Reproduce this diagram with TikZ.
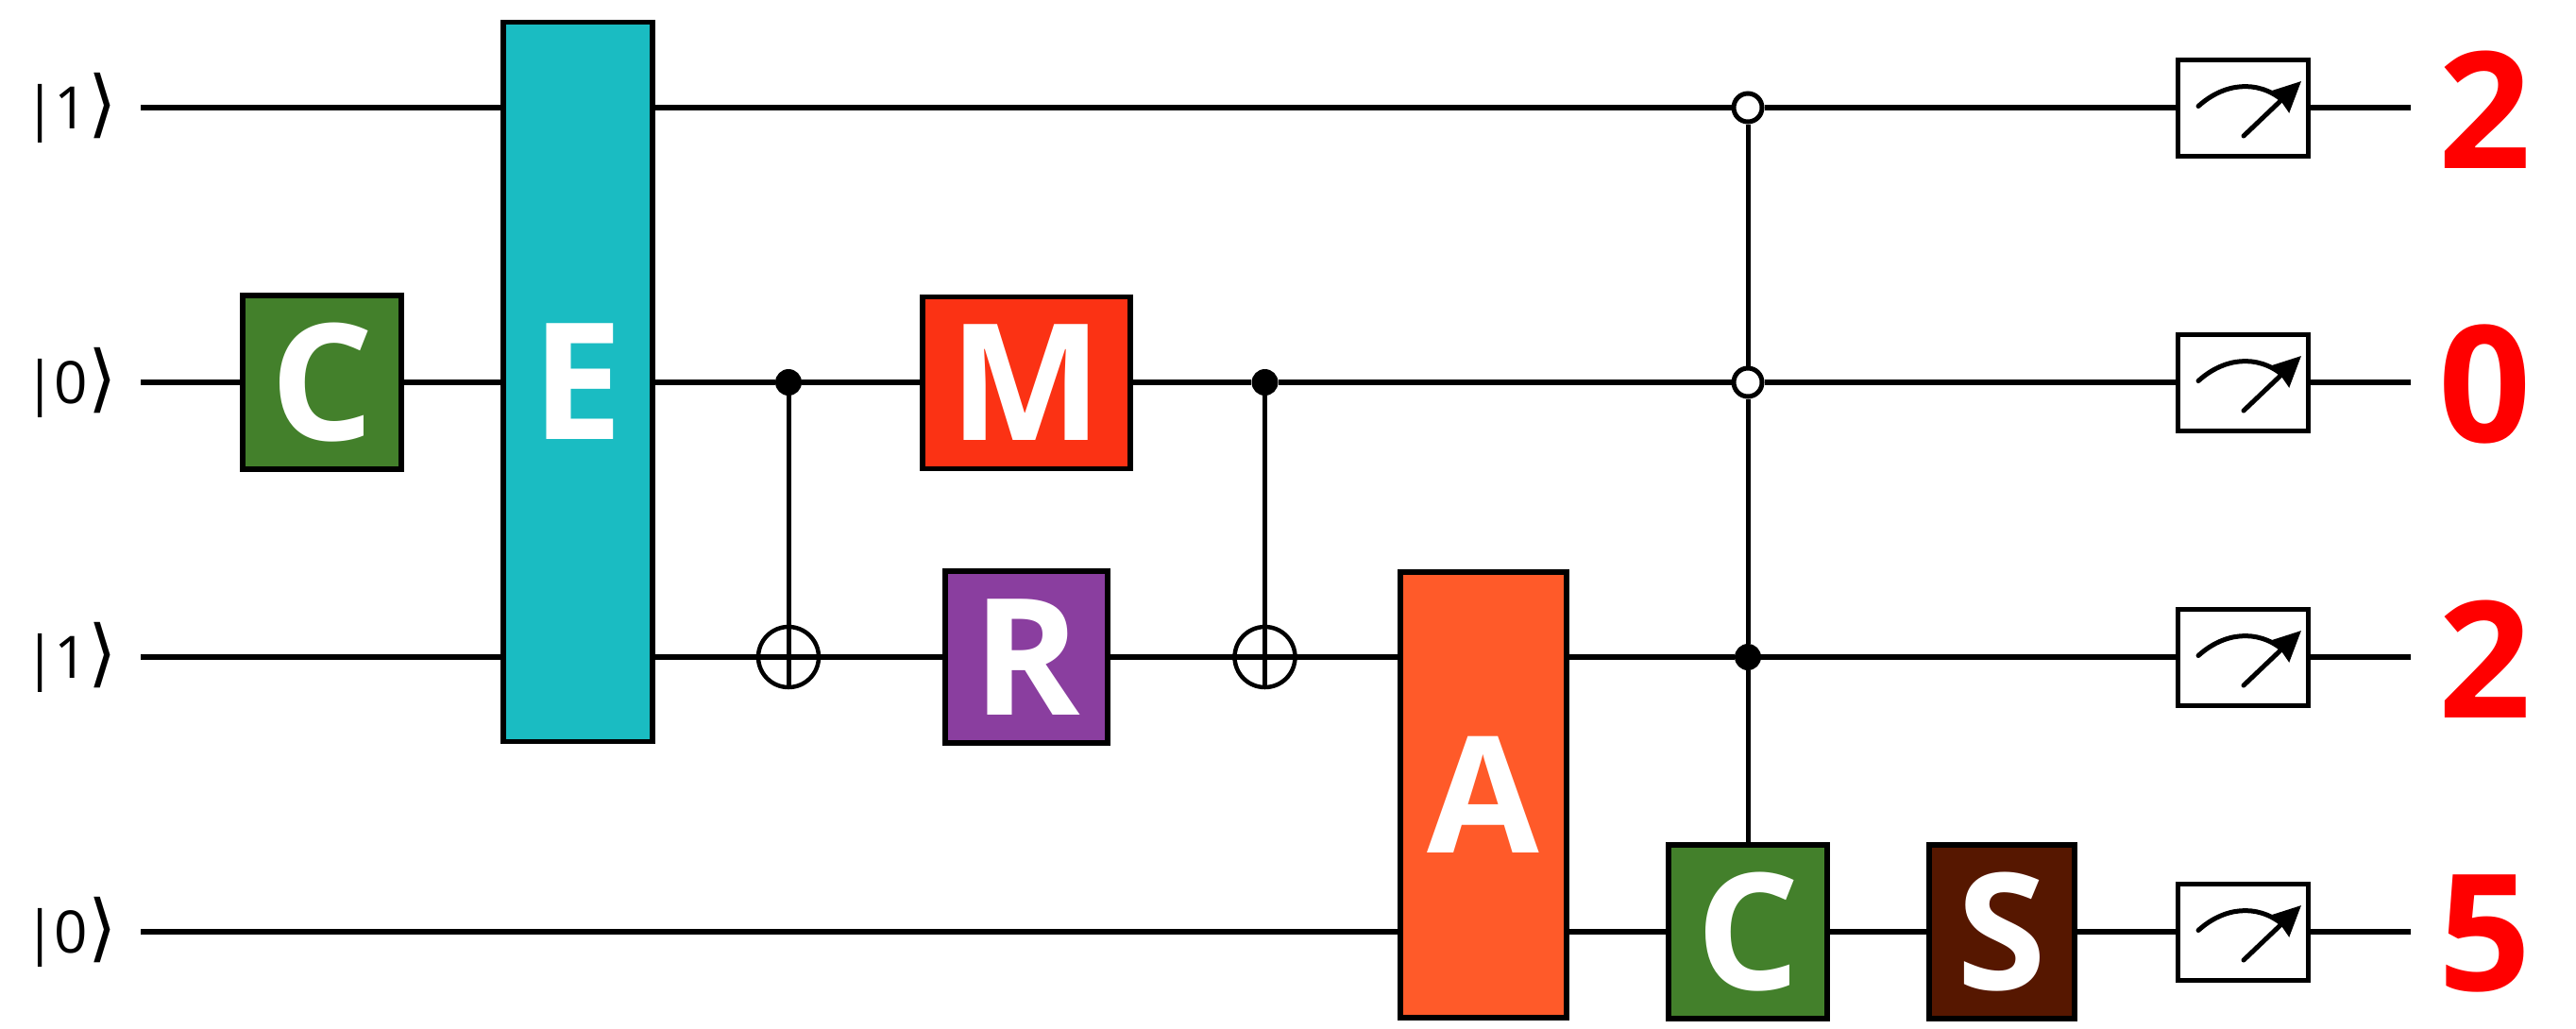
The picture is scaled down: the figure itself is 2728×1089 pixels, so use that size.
\documentclass[tikz,border=0pt]{standalone}
\usepackage{fontspec}
\setmainfont{Open Sans}
\newfontfamily\ketfont{DejaVu Sans}
\usetikzlibrary{arrows.meta,calc}
\definecolor{cgreen}{HTML}{43802B}
\definecolor{cteal}{HTML}{1ABCC2}
\definecolor{cred}{HTML}{FB3214}
\definecolor{cpurple}{HTML}{8A3E9F}
\definecolor{corange}{HTML}{FF5A29}
\definecolor{cbrown}{HTML}{561700}
\newcommand{\ketlab}[1]{|\kern-1.5pt#1\kern0.5pt{\ketfont\fontsize{39}{39}\selectfont ⟩}}
\tikzset{
  wire/.style={line width=2.75pt,black},
  gatebox/.style={draw=black,line width=2.75pt,inner sep=0pt,text=white,font=\fontsize{86}{86}\selectfont\bfseries},
  ctrl/.style={circle,fill=black,draw=none,minimum size=14pt,inner sep=0pt},
  openctrl/.style={circle,fill=white,draw=black,line width=2.5pt,minimum size=15pt,inner sep=0pt},
  xorcirc/.style={circle,draw=black,line width=2.25pt,minimum size=32pt,inner sep=0pt},
  meterbox/.style={draw=black,fill=white,line width=2.5pt,minimum width=69pt,minimum height=51pt,inner sep=0pt},
  ketlabel/.style={font=\fontsize{31}{34}\selectfont,inner sep=0pt},
  result/.style={font=\fontsize{86}{86}\selectfont\bfseries,text=red,inner sep=0pt},
}
\begin{document}
\begin{tikzpicture}[x=0.5pt,y=-0.5pt]
\useasboundingbox (0,0) rectangle (2728,1089);
% wire ends
\coordinate (s1) at (149,114);
\coordinate (s2) at (149,405);
\coordinate (s3) at (149,696);
\coordinate (s4) at (149,987);
\coordinate (e1) at (2553,114);
\coordinate (e2) at (2553,405);
\coordinate (e3) at (2553,696);
\coordinate (e4) at (2553,987);
% labels
\node[ketlabel] (k1) at (75,114) {\ketlab{1}};
\node[ketlabel] (k2) at (75,405) {\ketlab{0}};
\node[ketlabel] (k3) at (75,696) {\ketlab{1}};
\node[ketlabel] (k4) at (75,987) {\ketlab{0}};
% gates
\node[gatebox,fill=cgreen,minimum width=84pt,minimum height=92pt] (C1) at (341,405) {C};
\node[gatebox,fill=cteal,minimum width=79pt,minimum height=381pt] (E) at (612,404.5) {E};
\node[gatebox,fill=cred,minimum width=110pt,minimum height=91pt] (M) at (1087,405.5) {M};
\node[gatebox,fill=cpurple,minimum width=86pt,minimum height=91pt] (R) at (1087,696) {R};
\node[gatebox,fill=corange,minimum width=88pt,minimum height=236pt] (A) at (1571,842) {A};
\node[gatebox,fill=cgreen,minimum width=84pt,minimum height=92pt] (C2) at (1851,987) {C};
\node[gatebox,fill=cbrown,minimum width=77pt,minimum height=92pt] (S) at (2120,987) {S};
% controls
\node[ctrl] (d1) at (835,405) {};
\node[xorcirc] (x1) at (835,696) {};
\node[ctrl] (d2) at (1339.5,405) {};
\node[xorcirc] (x2) at (1339.5,696) {};
\node[openctrl] (o1) at (1851,114) {};
\node[openctrl] (o2) at (1851,405) {};
\node[ctrl] (d3) at (1851,696) {};
% meters
\foreach \i/\y in {1/114,2/405,3/696,4/987}{
  \node[meterbox] (m\i) at (2375,\y) {};
  \begin{scope}[shift={(m\i.center)}]
    \draw[line width=2.5pt,line cap=round] (-47,-1.5) .. controls (-20,-26) and (15,-30) .. (42,-8);
    \draw[line width=2.5pt,line cap=round,-{Stealth[length=16pt,width=15pt,inset=1pt]}] (1,30) -- (62,-28);
  \end{scope}
}
% results
\node[result] (r1) at (2632,116) {2};
\node[result] (r2) at (2632,407) {0};
\node[result] (r3) at (2632,698) {2};
\node[result] (r4) at (2632,989) {5};
% wire 1
\draw[wire] (s1) -- (s1 -| E.west);
\draw[wire] (s1 -| E.east) -- (o1);
\draw[wire] (o1) -- (m1);
\draw[wire] (m1) -- (e1);
% wire 2
\draw[wire] (s2) -- (C1);
\draw[wire] (C1) -- (s2 -| E.west);
\draw[wire] (s2 -| E.east) -- (d1);
\draw[wire] (d1) -- (M.west |- d1);
\draw[wire] (M.east |- d2) -- (d2);
\draw[wire] (d2) -- (o2);
\draw[wire] (o2) -- (m2);
\draw[wire] (m2) -- (e2);
% wire 3
\draw[wire] (s3) -- (s3 -| E.west);
\draw[wire] (s3 -| E.east) -- (x1.east);
\draw[wire] (x1.east) -- (R);
\draw[wire] (R) -- (x2.east);
\draw[wire] (x2.east) -- (s3 -| A.west);
\draw[wire] (s3 -| A.east) -- (d3);
\draw[wire] (d3) -- (m3);
\draw[wire] (m3) -- (e3);
% wire 4
\draw[wire] (s4) -- (s4 -| A.west);
\draw[wire] (s4 -| A.east) -- (C2);
\draw[wire] (C2) -- (S);
\draw[wire] (S) -- (m4);
\draw[wire] (m4) -- (e4);
% verticals
\draw[wire,line width=2.5pt] (d1) -- (x1.south);
\draw[wire,line width=2.5pt] (d2) -- (x2.south);
\draw[wire,line width=2.5pt] (o1) -- (o2);
\draw[wire,line width=2.5pt] (o2) -- (d3);
\draw[wire,line width=2.5pt] (d3) -- (C2);
\end{tikzpicture}
\end{document}
